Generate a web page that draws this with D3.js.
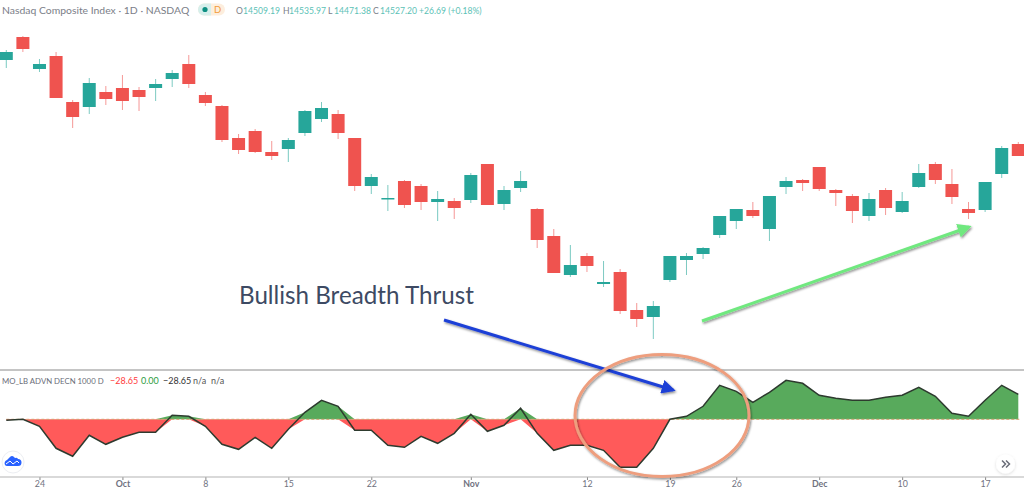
<!DOCTYPE html>
<html>
<head>
<meta charset="utf-8">
<script src="https://cdn.jsdelivr.net/npm/d3@7"></script>
<style>
  html, body { margin: 0; padding: 0; background: #fff; overflow: hidden; }
  text { font-family: Lato, "Open Sans", sans-serif; }
</style>
</head>
<body>
<div id="chart"></div>
<script>
var width = 1024, height = 493

// daily candles
var open = [15000,15115,14955,15020,14790,14765,14840,14860,14850,14860,14905,14980,14825,14770,14610,14645,14540,14555,14635,14705,14730,14610,14370,14305,14395,14370,14290,14295,14300,14480,14280,14360,14255,14120,13925,14020,13880,13940,13750,13715,13900,14000,14030,14125,14195,14250,14155,14365,14400,14465,14350,14320,14220,14350,14240,14365,14480,14380,14255,14250,14430,14580]
var high = [15050,15120,15005,15040,14800,14910,14870,14925,14865,14905,14950,15025,14840,14775,14630,14655,14595,14610,14750,14790,14750,14610,14430,14375,14400,14380,14345,14310,14435,14480,14370,14445,14260,14155,14075,14035,13995,13955,13785,13795,14020,14035,14065,14220,14255,14290,14320,14415,14405,14465,14355,14330,14335,14360,14340,14480,14490,14455,14290,14390,14570,14590]
var low = [14960,15040,14940,14810,14660,14730,14775,14750,14745,14795,14865,14860,14770,14590,14530,14535,14500,14490,14620,14690,14605,14345,14330,14245,14260,14250,14195,14205,14285,14275,14250,14340,14060,13935,13915,13940,13865,13730,13665,13605,13890,13925,14005,14110,14155,14210,14095,14330,14345,14345,14270,14185,14195,14225,14235,14360,14380,14280,14205,14240,14410,14520]
var close = [15040,15055,14980,14810,14715,14885,14805,14795,14815,14880,14935,14880,14785,14600,14550,14540,14520,14600,14745,14760,14635,14370,14415,14310,14275,14290,14305,14260,14425,14275,14350,14395,14100,13935,13975,13970,13890,13745,13705,13770,14020,14020,14060,14220,14255,14220,14320,14395,14385,14355,14335,14245,14305,14260,14295,14435,14400,14315,14235,14390,14560,14520]

// advance decline oscillator
var breadth = [-1,0,-7,-29,-37,-16,-25,-18,-13,-13,4,3,-7,-25,-30,-18,-29,-10,7,19,13,-11,-11,-26,-28,-17,-24,-14,5,-12,-6,11,-14,-31,-26,-26,-31,-48,-48,-29,0,3,13,34,28,17,27,39,36,24,21,19,19,22,24,32,23,6,3,19,34,25]

var tickIndex = [2,7,12,17,22,28,35,40,44,49,54,59]
var tickLabels = ['24','Oct','8','15','22','Nov','12','19','26','Dec','10','17']
var boldTicks = ['Oct','Nov','Dec']

var x = d3.scaleLinear().domain([0, 61]).range([6.3, 1018.3])
var y = d3.scaleLinear().domain([15300, 13450]).range([0, 370])
var yb = d3.scaleLinear().domain([0, 50]).range([419.3, 369.3])

var svg = d3.select('#chart').append('svg')
  .attr('width', width)
  .attr('height', height)
  .style('display', 'block')

var defs = svg.append('defs')
var soft = defs.append('filter').attr('id', 'soft')
soft.append('feGaussianBlur').attr('stdDeviation', 0.35)
var shadow = defs.append('filter').attr('id', 'shadow')
  .attr('x', '-10%').attr('y', '-30%').attr('width', '120%').attr('height', '160%')
shadow.append('feDropShadow')
  .attr('dx', 1).attr('dy', 1.5).attr('stdDeviation', 1.2)
  .attr('flood-color', '#000').attr('flood-opacity', 0.45)
var lightShadow = defs.append('filter').attr('id', 'lightShadow')
  .attr('x', '-40%').attr('y', '-40%').attr('width', '180%').attr('height', '180%')
lightShadow.append('feDropShadow')
  .attr('dx', 0).attr('dy', 1).attr('stdDeviation', 1.5)
  .attr('flood-color', '#000').attr('flood-opacity', 0.15)

function arrowHead(id, color) {
  defs.append('marker').attr('id', id)
    .attr('viewBox', '0 0 10 10').attr('refX', 8).attr('refY', 5)
    .attr('markerUnits', 'userSpaceOnUse')
    .attr('markerWidth', 14).attr('markerHeight', 14)
    .attr('orient', 'auto')
    .append('path').attr('d', 'M0,0L10,5L0,10Z').attr('fill', color)
}
arrowHead('headBlue', '#1f3fd6')
arrowHead('headGreen', '#6fe87f')

// candles
var candles = svg.append('g').attr('filter', 'url(#soft)')
  .selectAll('g').data(d3.range(open.length)).enter().append('g')

function candleColor(i) { return close[i] >= open[i] ? '#26a69a' : '#ef5350' }

candles.append('line')
  .attr('x1', function(i) {return x(i)})
  .attr('x2', function(i) {return x(i)})
  .attr('y1', function(i) {return y(high[i])})
  .attr('y2', function(i) {return y(low[i])})
  .attr('stroke', candleColor)
  .attr('stroke-opacity', 0.6)
  .attr('stroke-width', 1)

candles.append('rect')
  .attr('x', function(i) {return x(i) - 6.5})
  .attr('width', 13)
  .attr('y', function(i) {return y(Math.max(open[i], close[i]))})
  .attr('height', function(i) {return Math.max(1.5, Math.abs(y(open[i]) - y(close[i])))})
  .attr('fill', candleColor)

// header
svg.append('text').attr('x', 2).attr('y', 14)
  .attr('font-size', 10.4).attr('fill', '#7b7e88')
  .text('Nasdaq Composite Index · 1D · NASDAQ')

var badge = svg.append('g')
badge.append('rect').attr('x', 198).attr('y', 3.5).attr('width', 27).attr('height', 12).attr('rx', 6).attr('fill', '#fdeedd')
badge.append('path').attr('d', 'M211,3.5H204a6,6 0 0 0 0,12H211Z').attr('fill', '#d6efec')
badge.append('circle').attr('cx', 205).attr('cy', 9.5).attr('r', 2.6).attr('fill', '#0d8f82')
badge.append('text').attr('x', 217.5).attr('y', 13).attr('text-anchor', 'middle')
  .attr('font-size', 9.5).attr('fill', '#f29b38').text('D')

var ohlc = svg.append('text').attr('y', 14).attr('font-size', 8.6)
var ohlcParts = [['O', '#7b7e88', 236], ['14509.19', '#5cc2b6', 243], ['H', '#7b7e88', 283], ['14535.97', '#5cc2b6', 289], ['L', '#7b7e88', 328], ['14471.38', '#5cc2b6', 334], ['C', '#7b7e88', 373], ['14527.20', '#5cc2b6', 380], ['+26.69 (+0.18%)', '#5cc2b6', 419]]
ohlcParts.forEach(function(p) {
  ohlc.append('tspan').attr('x', p[2]).attr('fill', p[1]).text(p[0])
})

// pane lines
svg.append('line').attr('x1', 0).attr('x2', width).attr('y1', 370).attr('y2', 370)
  .attr('stroke', '#8a8a8a').attr('stroke-width', 1)

// indicator legend
var legendParts = [['MO_LB ADVN DECN 1000 D', '#6a6d78', 2, 7.8], ['−28.65', '#ff3b3b', 110, 9], ['0.00', '#2e9c3f', 141, 9], ['−28.65', '#333', 163, 9], ['n/a', '#555', 193, 9], ['n/a', '#555', 211, 9]]
svg.append('g').selectAll('text').data(legendParts).enter().append('text')
  .attr('x', function(d) {return d[2]})
  .attr('y', 384)
  .attr('font-size', function(d) {return d[3]})
  .attr('fill', function(d) {return d[1]})
  .text(function(d) {return d[0]})

// breadth areas, positive and negative parts taken separately
var areaUp = d3.area()
  .x(function(d, i) {return x(i)})
  .y0(yb(0))
  .y1(function(d) {return yb(Math.max(d, 0))})
var areaDown = d3.area()
  .x(function(d, i) {return x(i)})
  .y0(yb(0))
  .y1(function(d) {return yb(Math.min(d, 0))})
var lineGen = d3.line()
  .x(function(d, i) {return x(i)})
  .y(function(d) {return yb(d)})

var pane = svg.append('g').attr('filter', 'url(#soft)')
pane.append('path').datum(breadth).attr('d', areaDown).attr('fill', '#ff5a5a')
pane.append('path').datum(breadth).attr('d', areaUp).attr('fill', '#58aa5c')
pane.append('line').attr('x1', x(0)).attr('x2', 1020).attr('y1', yb(0)).attr('y2', yb(0))
  .attr('stroke', '#d8a070').attr('stroke-dasharray', '3,2').attr('stroke-width', 1)
pane.append('path').datum(breadth).attr('d', lineGen)
  .attr('fill', 'none').attr('stroke', '#2d3a2f').attr('stroke-width', 1.5)

// time axis
var axis = d3.axisBottom(x)
  .tickValues(tickIndex)
  .tickSize(3)
  .tickPadding(1)
  .tickFormat(function(d, i) {return tickLabels[i]})
var axisG = svg.append('g').attr('transform', 'translate(0,477)').call(axis)
axisG.select('.domain').remove()
svg.append('line').attr('x1', 0).attr('x2', width).attr('y1', 477).attr('y2', 477)
  .attr('stroke', '#b4b4b4').attr('stroke-width', 1.2)
axisG.selectAll('.tick line').attr('stroke', '#888')
axisG.selectAll('.tick text')
  .attr('font-size', 8.8)
  .attr('fill', '#6f7280')
  .attr('font-family', 'Lato, sans-serif')
  .attr('font-weight', function(d, i) {return boldTicks.indexOf(tickLabels[i]) >= 0 ? 700 : 400})

// round logo
svg.append('circle').attr('cx', 13).attr('cy', 462).attr('r', 11).attr('fill', '#fff').attr('stroke', '#eceef2')
svg.append('path')
  .attr('d', 'M5,465a3.5,3.5 0 0 1 2,-5l3,-3q2,-2 4,0l1,1q2,-1 3,1a3.5,3.5 0 0 1 0,7h-11a3,3 0 0 1 -2,-1Z')
  .attr('fill', '#2962ff')
svg.append('path').attr('d', 'M6,464l4,-3l3,3l4,-3l2,2')
  .attr('fill', 'none').attr('stroke', '#fff').attr('stroke-width', 1)

// scroll button
svg.append('circle').attr('cx', 1005.5).attr('cy', 464).attr('r', 9.5)
  .attr('fill', '#fff').attr('filter', 'url(#lightShadow)')
svg.append('path').attr('d', 'M1002,460.5l3.5,3.5l-3.5,3.5M1006,460.5l3.5,3.5l-3.5,3.5')
  .attr('fill', 'none').attr('stroke', '#6a6d78').attr('stroke-width', 1.5)

// annotations
svg.append('text').attr('x', 239).attr('y', 304)
  .attr('font-size', 24.2).attr('fill', '#3d4a63')
  .text('Bullish Breadth Thrust')

svg.append('line').attr('x1', 444).attr('y1', 320).attr('x2', 673).attr('y2', 390)
  .attr('stroke', '#1f3fd6').attr('stroke-width', 3)
  .attr('marker-end', 'url(#headBlue)').attr('filter', 'url(#shadow)')

svg.append('line').attr('x1', 702).attr('y1', 321).attr('x2', 969).attr('y2', 227)
  .attr('stroke', '#6fe87f').attr('stroke-width', 3)
  .attr('marker-end', 'url(#headGreen)').attr('filter', 'url(#shadow)')

svg.append('ellipse').attr('cx', 662).attr('cy', 415.5).attr('rx', 87).attr('ry', 61)
  .attr('fill', 'none').attr('stroke', '#ee9e7e').attr('stroke-width', 3)
  .attr('filter', 'url(#shadow)')
</script>
</body>
</html>
